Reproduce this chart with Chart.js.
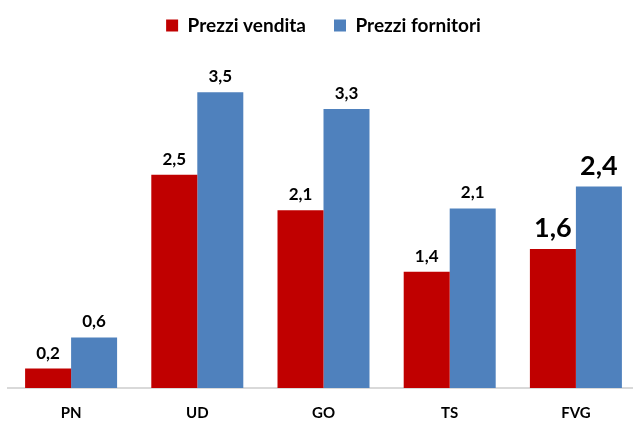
<!DOCTYPE html>
<html>
<head>
<meta charset="utf-8">
<script src="https://cdn.jsdelivr.net/npm/chart.js@4"></script>
<style>
  html, body { margin: 0; padding: 0; background: #ffffff; overflow: hidden; width: 633px; height: 426px; }
  #wrap { width: 639px; height: 426px; position: relative; }
</style>
</head>
<body>
<div id="wrap"><canvas id="c"></canvas></div>
<script>
const categories = ["PN", "UD", "GO", "TS", "FVG"];
const prezziVendita = [0.23, 2.53, 2.11, 1.38, 1.65];
const prezziFornitori = [0.6, 3.51, 3.31, 2.13, 2.39];
const seriesNames = ["Prezzi vendita", "Prezzi fornitori"];
const yMax = 4.07;

const FONT = "Lato, 'Liberation Sans', sans-serif";

const dataLabels = {
  id: 'dataLabels',
  afterDatasetsDraw(chart) {
    const ctx = chart.ctx;
    ctx.save();
    ctx.fillStyle = '#000000';
    ctx.textAlign = 'center';
    ctx.textBaseline = 'alphabetic';
    chart.data.datasets.forEach((ds, di) => {
      const meta = chart.getDatasetMeta(di);
      meta.data.forEach((bar, i) => {
        const big = i === categories.length - 1;
        ctx.font = 'bold ' + (big ? 27 : 17) + 'px ' + FONT;
        const txt = ds.data[i].toFixed(1).replace('.', ',');
        ctx.fillText(txt, bar.x, bar.y - (big ? 12 : 10));
      });
    });
    ctx.restore();
  }
};

new Chart(document.getElementById('c'), {
  type: 'bar',
  data: {
    labels: categories,
    datasets: [
      { label: seriesNames[0], data: prezziVendita, backgroundColor: '#C00000', borderWidth: 0 },
      { label: seriesNames[1], data: prezziFornitori, backgroundColor: '#4F81BD', borderWidth: 0 }
    ]
  },
  options: {
    responsive: true,
    maintainAspectRatio: false,
    animation: false,
    layout: { padding: { left: 8, right: 0, top: -12, bottom: -12 } },
    datasets: { bar: { categoryPercentage: 0.729, barPercentage: 1.0 } },
    plugins: {
      legend: {
        position: 'top',
        labels: {
          boxWidth: 12, boxHeight: 12, padding: 28,
          color: '#000000',
          font: { family: FONT, size: 19, weight: 'bold' }
        }
      },
      tooltip: { enabled: false }
    },
    scales: {
      x: {
        grid: { display: false, drawTicks: false },
        border: { display: true, color: '#D9D9D9', width: 2 },
        ticks: { color: '#000000', padding: 16, font: { family: FONT, size: 15, weight: 'bold' } }
      },
      y: {
        display: false,
        min: 0,
        max: yMax
      }
    }
  },
  plugins: [dataLabels]
});
</script>
</body>
</html>
